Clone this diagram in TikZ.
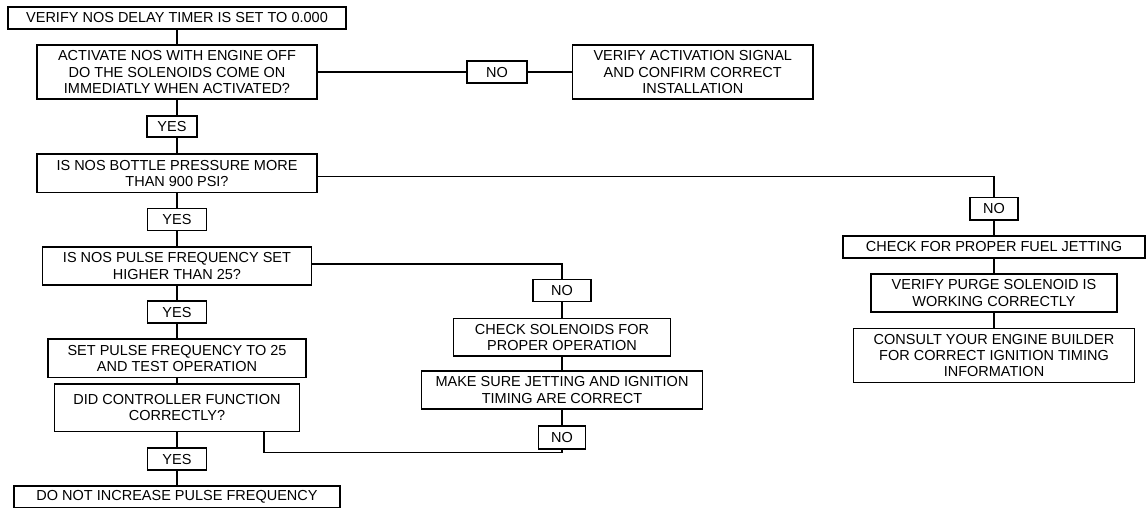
\documentclass[tikz,border=0pt]{standalone}
\usepackage{fontspec}
\setmainfont{Liberation Sans}
\usetikzlibrary{positioning}

\begin{document}
\begin{tikzpicture}[x=1pt, y=1pt, line width=1.7pt,
        font=\fontsize{14.5pt}{16.3pt}\selectfont,
        box/.style={draw, inner sep=2pt, outer sep=0pt, align=center},
        tag/.style={box, minimum height=22pt}]

        \useasboundingbox (0,0) rectangle (1147,-508);

        % Main column
        \node[box, minimum width=338pt, minimum height=22.6pt] (timer) at (177,-18) {VERIFY NOS DELAY TIMER IS SET TO 0.000};
        \node[box, minimum width=280pt, minimum height=54.3pt, below=15.7pt of timer] (activate) {ACTIVATE NOS WITH ENGINE OFF\\DO THE SOLENOIDS COME ON\\IMMEDIATLY WHEN ACTIVATED?};
        \node[tag, minimum width=50pt, minimum height=21pt, below=17pt of activate, xshift=-5pt] (yes1) {YES};
        \node[box, minimum width=280pt, minimum height=38.3pt, below=17pt of activate |- yes1.south] (bottle) {IS NOS BOTTLE PRESSURE MORE\\THAN 900 PSI?};
        \node[tag, minimum width=59pt, below=16pt of bottle] (yes2) {YES};
        \node[box, minimum width=269pt, minimum height=37.6pt, below=16.7pt of yes2] (pulse) {IS NOS PULSE FREQUENCY SET\\HIGHER THAN 25?};
        \node[tag, minimum width=59pt, below=16.4pt of pulse] (yes3) {YES};
        \node[box, minimum width=258pt, minimum height=38.7pt, below=15.6pt of yes3] (set_freq) {SET PULSE FREQUENCY TO 25\\AND TEST OPERATION};
        \node[box, minimum width=245pt, minimum height=47.7pt, below=6.3pt of set_freq] (did_work) {DID CONTROLLER FUNCTION\\CORRECTLY?};
        \node[tag, minimum width=59pt, below=16.7pt of did_work] (yes4) {YES};
        \node[box, minimum width=326pt, minimum height=21.6pt, below=15.7pt of yes4] (no_increase) {DO NOT INCREASE PULSE FREQUENCY};

        % Activation branch
        \node[tag, minimum width=60pt, right=150pt of activate] (no1) {NO};
        \node[box, minimum width=240.5pt, minimum height=54.3pt, right=45.5pt of no1] (verify_signal) {VERIFY ACTIVATION SIGNAL\\AND CONFIRM CORRECT\\INSTALLATION};

        % Bottle pressure branch
        \node[tag, minimum width=48pt, minimum height=22.7pt] (no4) at (994,-208.7) {NO};
        \node[box, minimum width=302pt, minimum height=22pt, below=15.7pt of no4] (fuel_jet) {CHECK FOR PROPER FUEL JETTING};
        \node[box, minimum width=246pt, minimum height=37.7pt, below=16.3pt of fuel_jet] (purge) {VERIFY PURGE SOLENOID IS\\WORKING CORRECTLY};
        \node[box, minimum width=281pt, minimum height=54pt, below=16.6pt of purge] (consult) {CONSULT YOUR ENGINE BUILDER\\FOR CORRECT IGNITION TIMING\\INFORMATION};

        % Pulse frequency branch
        \node[tag, minimum width=58pt] (no2) at (562,-290.5) {NO};
        \node[box, minimum width=217pt, minimum height=37.7pt, below=17pt of no2] (check_sol) {CHECK SOLENOIDS FOR\\PROPER OPERATION};
        \node[box, minimum width=281pt, minimum height=37.7pt, below=15pt of check_sol] (jetting) {MAKE SURE JETTING AND IGNITION\\TIMING ARE CORRECT};
        \node[tag, minimum width=47pt, minimum height=22.6pt, below=17.4pt of jetting] (no3) {NO};

        % Draw connections
        \draw (timer) -- (activate);
        \draw (activate) -- (activate |- yes1.north);
        \draw (activate |- yes1.south) -- (bottle);
        \draw (bottle) -- (yes2);
        \draw (yes2) -- (pulse);
        \draw (pulse) -- (yes3);
        \draw (yes3) -- (set_freq);
        \draw (set_freq) -- (did_work);
        \draw (did_work) -- (yes4);
        \draw (yes4) -- (no_increase);

        \draw (activate) -- (no1);
        \draw (no1) -- (verify_signal);

        \draw ([yshift=-3pt]bottle.east) -| (no4);
        \draw (no4) -- (fuel_jet);
        \draw (fuel_jet) -- (purge);
        \draw (purge) -- (consult);

        \draw ([yshift=2pt]pulse.east) -| (no2);
        \draw (no2) -- (check_sol);
        \draw (check_sol) -- (jetting);
        \draw (jetting) -- (no3);
        \draw (no3) -- ++(0,-15) -| ([xshift=87pt]did_work.south);

    \end{tikzpicture}
\end{document}
